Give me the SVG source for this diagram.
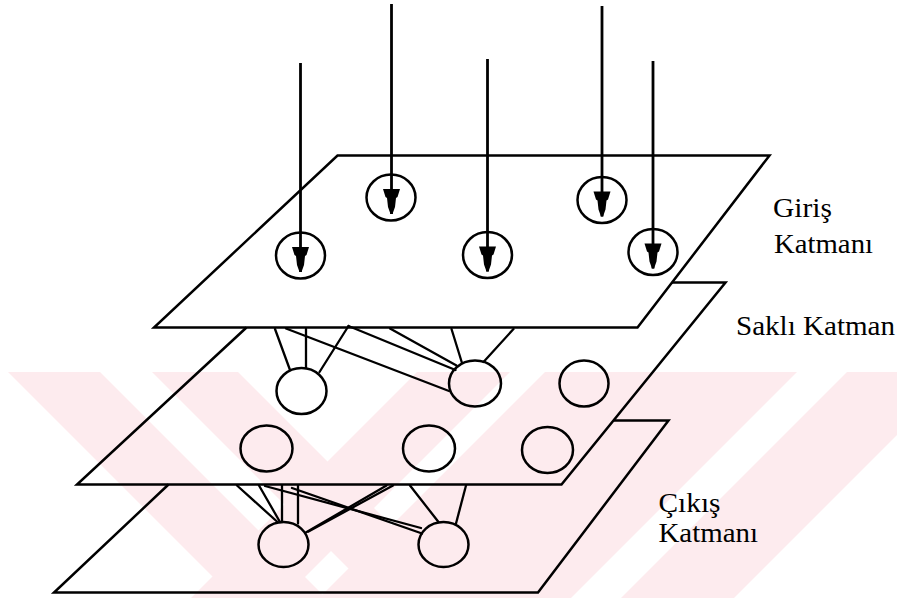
<svg xmlns="http://www.w3.org/2000/svg" width="897" height="598" viewBox="0 0 897 598">
  <defs>
    <style>
      .plane { fill: none; stroke: #000; stroke-width: 2.5; stroke-linejoin: miter; }
      .node { fill: none; stroke: #000; stroke-width: 2.5; }
      .link { fill: none; stroke: #000; stroke-width: 2.3; stroke-linecap: round; }
      .feed { fill: none; stroke: #000; stroke-width: 2.8; }
      .label { font-family: "Liberation Serif", "Times New Roman", serif; font-size: 27px; fill: #000; }
      .band { fill: #fdebee; }
    </style>
    <!-- bulb-shaped arrowhead used on the incoming signal lines -->
    <marker id="tip" markerUnits="userSpaceOnUse" viewBox="-26 -10 28 20" refX="0" refY="0" markerWidth="28" markerHeight="20" orient="auto">
      <path d="M-25,-8.5 L-25,8.5 L-17,6 L-16,4.5 L-7,3.5 L0,1 L0,-1 L-7,-3.5 L-16,-4.5 L-17,-6 Z" fill="#000"/>
    </marker>
    <clipPath id="lower">
      <rect x="0" y="372" width="897" height="226"/>
    </clipPath>
  </defs>

  <rect width="897" height="598" fill="#fff"/>

  <!-- faint background watermark bands -->
  <g id="watermark" clip-path="url(#lower)">
    <polygon class="band" points="8,372 100,372 326,598 234,598"/>
    <polygon class="band" points="152,372 238,372 464,598 378,598"/>
    <polygon class="band" points="417,372 510,372 284,598 191,598"/>
    <polygon class="band" points="545,372 797,372 571,598 319,598"/>
    <polygon class="band" points="847,372 960,372 734,598 621,598"/>
  </g>

  <!-- layer planes -->
  <g id="input-plane">
    <polygon class="plane" points="337.5,155.5 769.5,155.5 637.5,327.5 154,327.5"/>
  </g>
  <g id="hidden-plane">
    <polyline class="plane" points="672,282.5 725.5,282.5 561.5,484.5 77,484.5 246.5,327.5"/>
  </g>
  <g id="output-plane">
    <polyline class="plane" points="614,420.5 668.5,420.5 538,592.5 54,592.5 168.5,484.5"/>
  </g>

  <!-- connectors -->
  <g id="connectors">
    <!-- incoming signals onto the input neurons -->
    <line class="feed" x1="300.5" y1="63" x2="300.5" y2="272" marker-end="url(#tip)"/>
    <line class="feed" x1="391.5" y1="4" x2="391.5" y2="214" marker-end="url(#tip)"/>
    <line class="feed" x1="487.5" y1="59" x2="487.5" y2="271.5" marker-end="url(#tip)"/>
    <line class="feed" x1="602" y1="6" x2="602" y2="216.5" marker-end="url(#tip)"/>
    <line class="feed" x1="653" y1="61" x2="653" y2="268.5" marker-end="url(#tip)"/>

    <!-- input layer to hidden layer -->
    <line class="link" x1="275" y1="329" x2="290" y2="370"/>
    <line class="link" x1="306" y1="329" x2="306" y2="368"/>
    <line class="link" x1="348.5" y1="326" x2="319.5" y2="372"/>
    <line class="link" x1="286" y1="328.5" x2="449" y2="391"/>
    <line class="link" x1="348.5" y1="326" x2="455.5" y2="370"/>
    <line class="link" x1="390" y1="328.5" x2="456.5" y2="365.5"/>
    <line class="link" x1="451.5" y1="329" x2="462" y2="363"/>
    <line class="link" x1="513.5" y1="329" x2="483.5" y2="362"/>

    <!-- hidden layer to output layer -->
    <line class="link" x1="237" y1="485.5" x2="277.5" y2="522"/>
    <line class="link" x1="259" y1="485.5" x2="280" y2="522"/>
    <line class="link" x1="282" y1="485.5" x2="282" y2="522"/>
    <line class="link" x1="298" y1="485.5" x2="298" y2="523.5"/>
    <line class="link" x1="265" y1="486" x2="421" y2="528"/>
    <line class="link" x1="292" y1="488" x2="422" y2="533.5"/>
    <line class="link" x1="386.5" y1="485.5" x2="305" y2="533"/>
    <line class="link" x1="393" y1="485.5" x2="308.5" y2="531.5"/>
    <line class="link" x1="410" y1="485.5" x2="438.5" y2="522"/>
    <line class="link" x1="466" y1="485.5" x2="456" y2="523.5"/>
  </g>

  <!-- input layer neurons -->
  <g id="in1"><ellipse class="node" cx="300.5" cy="255.5" rx="24.5" ry="23"/></g>
  <g id="in2"><ellipse class="node" cx="391" cy="197.5" rx="24.5" ry="23"/></g>
  <g id="in3"><ellipse class="node" cx="487.5" cy="255" rx="24.5" ry="23"/></g>
  <g id="in4"><ellipse class="node" cx="602" cy="200" rx="24.5" ry="23"/></g>
  <g id="in5"><ellipse class="node" cx="653" cy="252" rx="24.5" ry="23"/></g>

  <!-- hidden layer neurons -->
  <g id="h1"><ellipse class="node" cx="301.5" cy="391" rx="25" ry="23"/></g>
  <g id="h2"><ellipse class="node" cx="475" cy="383.5" rx="26" ry="23"/></g>
  <g id="h3"><ellipse class="node" cx="584" cy="383.5" rx="24.5" ry="23"/></g>
  <g id="h4"><ellipse class="node" cx="266.5" cy="448.5" rx="26" ry="23"/></g>
  <g id="h5"><ellipse class="node" cx="429" cy="448.5" rx="26" ry="23"/></g>
  <g id="h6"><ellipse class="node" cx="547.5" cy="450" rx="25.5" ry="23"/></g>

  <!-- output layer neurons -->
  <g id="o1"><ellipse class="node" cx="283.5" cy="544.5" rx="25" ry="22.5"/></g>
  <g id="o2"><ellipse class="node" cx="443.5" cy="544.5" rx="25" ry="22.5"/></g>

  <!-- layer labels -->
  <g id="labels">
    <text class="label" x="773" y="217" textLength="59" lengthAdjust="spacingAndGlyphs">Giriş</text>
    <text class="label" x="774" y="253" textLength="99" lengthAdjust="spacingAndGlyphs">Katmanı</text>
    <text class="label" x="736" y="334.5" textLength="159" lengthAdjust="spacingAndGlyphs">Saklı Katman</text>
    <text class="label" x="658.5" y="511.5" textLength="62" lengthAdjust="spacingAndGlyphs">Çıkış</text>
    <text class="label" x="658.5" y="541.5" textLength="99.5" lengthAdjust="spacingAndGlyphs">Katmanı</text>
  </g>
</svg>
